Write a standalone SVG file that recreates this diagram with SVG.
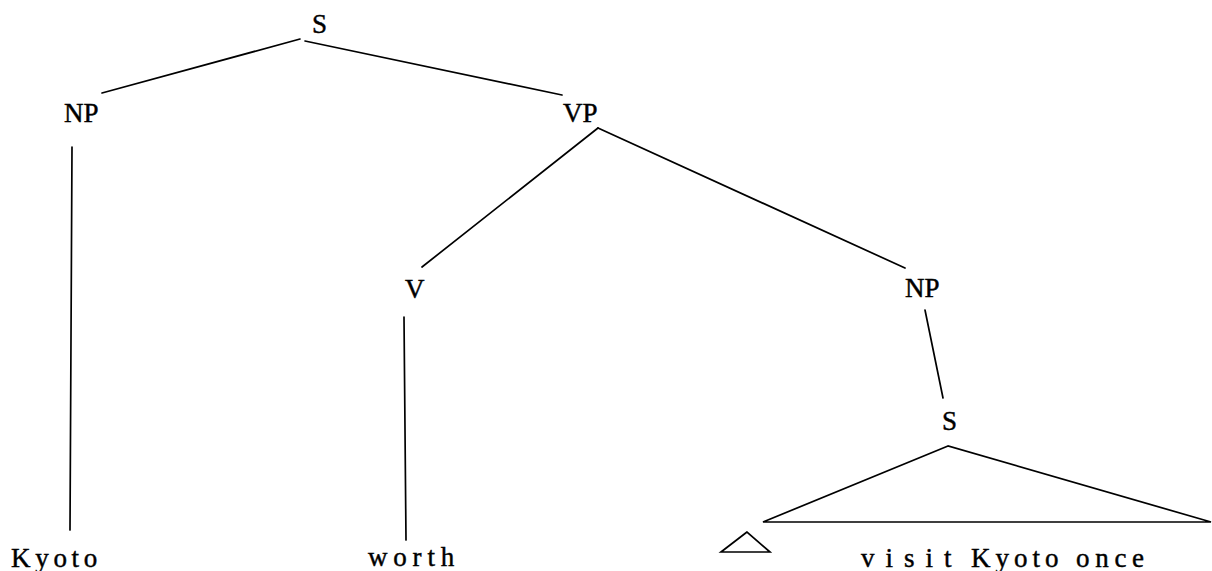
<svg xmlns="http://www.w3.org/2000/svg" width="1212" height="571" viewBox="0 0 1212 571">
<style>
.lbl{font-family:"Liberation Serif","Times New Roman",serif;font-size:27px;fill:#000;stroke:#000;stroke-width:0.45;}
.ln{stroke:#000;stroke-width:1.7;fill:none;stroke-linecap:round;}
</style>
<rect width="1212" height="571" fill="#fff"/>
<g id="connectors">
<line class="ln" x1="300" y1="39" x2="102" y2="93"/>
<line class="ln" x1="305" y1="41" x2="562" y2="95"/>
<line class="ln" x1="72" y1="147" x2="70" y2="530"/>
<line class="ln" x1="598" y1="128" x2="422" y2="267"/>
<line class="ln" x1="598" y1="128" x2="905" y2="268"/>
<line class="ln" x1="404" y1="317" x2="406" y2="540"/>
<line class="ln" x1="925" y1="310" x2="943" y2="398"/>
<polygon class="ln" points="948,446 763,522 1211,522"/>
<polygon class="ln" points="747,532 721,552 770,552"/>
</g>
<g id="n_S"><text class="lbl" x="312" y="33">S</text></g>
<g id="n_NP1"><text class="lbl" x="64" y="122">NP</text></g>
<g id="n_VP"><text class="lbl" x="563" y="122">VP</text></g>
<g id="n_V"><text class="lbl" x="405" y="298">V</text></g>
<g id="n_NP2"><text class="lbl" x="905" y="297">NP</text></g>
<g id="n_S2"><text class="lbl" x="942" y="430">S</text></g>
<g id="n_Kyoto"><text class="lbl" x="11" y="567" letter-spacing="4.7">Kyoto</text></g>
<g id="n_worth"><text class="lbl" x="368" y="566" letter-spacing="5.8">worth</text></g>
<g id="n_visit"><text class="lbl" y="567"><tspan x="861" letter-spacing="11">visit</tspan><tspan x="971" letter-spacing="5">Kyoto</tspan><tspan x="1076" letter-spacing="5.7">once</tspan></text></g>
</svg>
